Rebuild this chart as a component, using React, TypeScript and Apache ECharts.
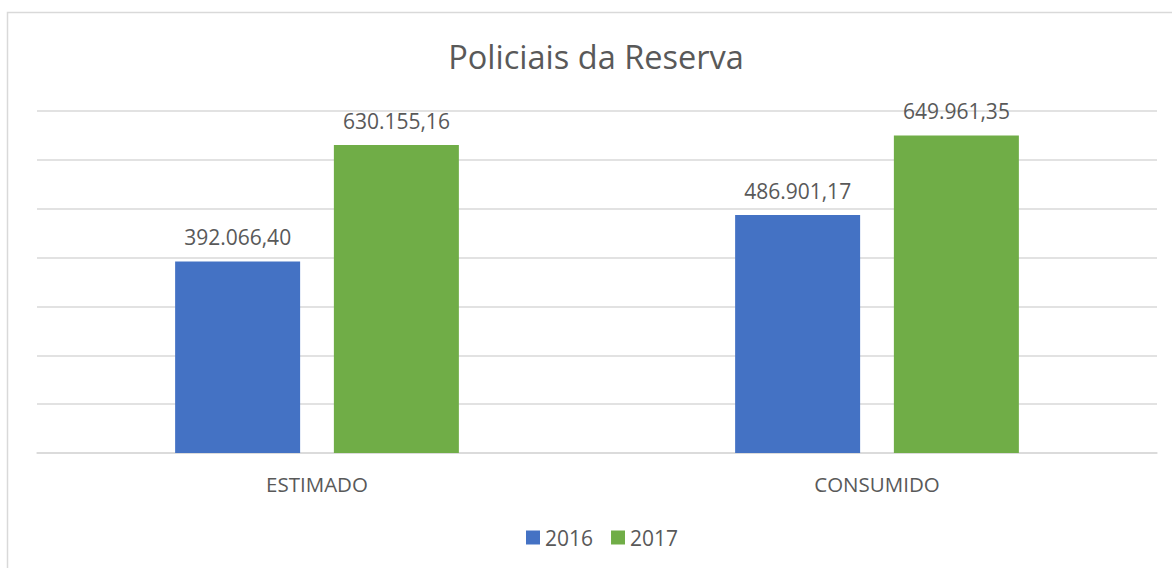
import React, { useEffect, useRef } from "react";
import * as echarts from "echarts";

const categories = ["ESTIMADO", "CONSUMIDO"];
const seriesNames = ["2016", "2017"];
const values2016 = [392066.4, 486901.17];
const values2017 = [630155.16, 649961.35];
const titleText = "Policiais da Reserva";

function fmt(v: number): string {
  const fixed = v.toFixed(2);
  const [intPart, dec] = fixed.split(".");
  const withDots = intPart.replace(/\B(?=(\d{3})+(?!\d))/g, ".");
  return withDots + "," + dec;
}

const FONT = "'Open Sans', sans-serif";
const TEXT = "#595959";

export default function App() {
  const ref = useRef<HTMLDivElement>(null);
  useEffect(() => {
    if (!ref.current) return;
    const chart = echarts.init(ref.current, undefined, { renderer: "svg" });
    const label = {
      show: true,
      position: "top",
      distance: 14,
      color: TEXT,
      fontSize: 21,
      fontFamily: FONT,
      formatter: (p: any) => fmt(p.value),
    };
    chart.setOption({
      animation: false,
      backgroundColor: "#ffffff",
      graphic: [
        {
          type: "rect",
          shape: { x: 7.5, y: 12.5, width: 1300, height: 700 },
          style: { fill: "none", stroke: "#d9d9d9", lineWidth: 1.5 },
          silent: true,
        },
        {
          type: "text",
          x: 596,
          y: 56,
          style: {
            text: titleText,
            textAlign: "center",
            textVerticalAlign: "middle",
            fill: TEXT,
            fontSize: 32.5,
            fontFamily: FONT,
          },
          silent: true,
        },
      ],
      legend: {
        data: seriesNames,
        left: 521,
        top: 522,
        itemWidth: 14,
        itemHeight: 14,
        itemGap: 18,
        icon: "rect",
        textStyle: { color: TEXT, fontSize: 21, fontFamily: FONT },
      },
      grid: { left: 37, right: 15, top: 111, bottom: 115, containLabel: false },
      xAxis: {
        type: "category",
        data: categories,
        axisLine: { lineStyle: { color: "#d9d9d9", width: 1.5 } },
        axisTick: { show: false },
        axisLabel: { color: TEXT, fontSize: 20.5, fontFamily: FONT, margin: 20 },
      },
      yAxis: {
        type: "value",
        min: 0,
        max: 700000,
        interval: 100000,
        axisLabel: { show: false },
        axisLine: { show: false },
        axisTick: { show: false },
        splitLine: { lineStyle: { color: "#d9d9d9", width: 1.5 } },
      },
      series: [
        {
          name: seriesNames[0],
          type: "bar",
          data: values2016,
          barWidth: 125,
          barGap: "27%",
          itemStyle: { color: "#4472C4" },
          label,
        },
        {
          name: seriesNames[1],
          type: "bar",
          data: values2017,
          barWidth: 125,
          barGap: "27%",
          itemStyle: { color: "#70AD47" },
          label,
        },
      ],
    });
    return () => chart.dispose();
  }, []);
  return (
    <div
      ref={ref}
      style={{ position: "fixed", left: 0, top: 0, width: 1172, height: 568, background: "#fff" }}
    />
  );
}
